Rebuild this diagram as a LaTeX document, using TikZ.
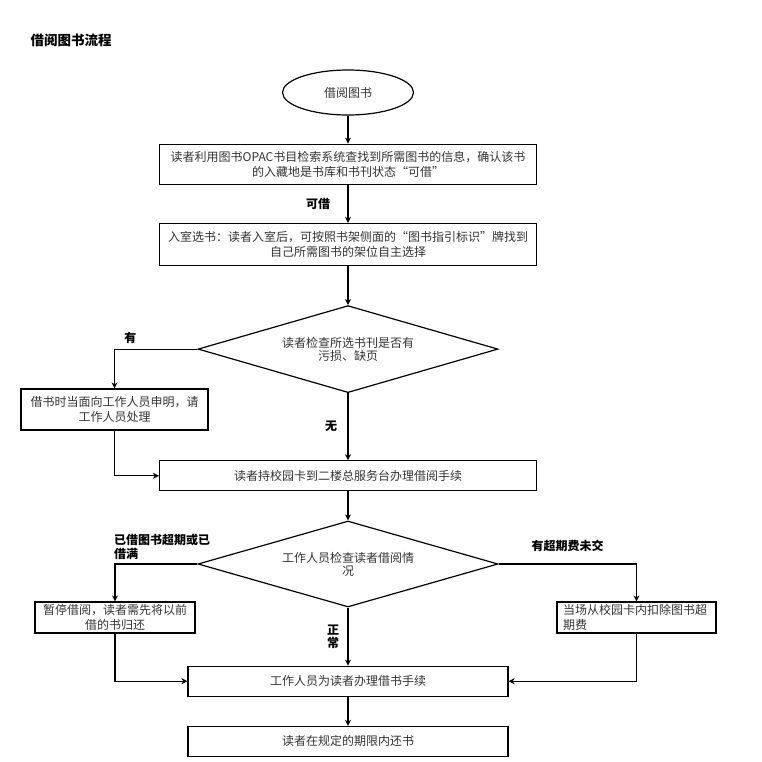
\documentclass[tikz,border=0pt]{standalone}
\usepackage{fontspec}
\setmainfont{Noto Sans CJK SC}
\usetikzlibrary{shapes.geometric,arrows.meta,positioning}

\begin{document}
\begin{tikzpicture}[
    x=1pt, y=-1pt,
    block/.style={rectangle, draw, line width=1.2pt, text=black!80, align=center, minimum width=377pt, minimum height=30pt, inner ysep=1pt, font=\fontsize{12}{15}\selectfont},
    startstop/.style={ellipse, draw, line width=1.2pt, text=black!80, minimum width=131pt, minimum height=45pt, font=\fontsize{12}{15}\selectfont},
    decision/.style={diamond, draw, line width=1.2pt, text=black!80, align=center, aspect=3.4, minimum width=300pt, minimum height=87pt, inner sep=1pt, font=\fontsize{12}{13}\selectfont},
    lbl/.style={font=\fontsize{12}{14}\selectfont\bfseries},
    conn/.style={draw, line width=1.2pt, -{Stealth[length=6pt,width=6pt]}}
]
    \useasboundingbox (0,0) rectangle (762,762);
    \node[lbl, anchor=west, font=\fontsize{13.5}{16}\selectfont\bfseries] (title) at (27,40) {借阅图书流程};

    \node[startstop] (start) at (348,92.5) {借阅图书};
    \node[block, minimum height=40pt, below=28pt of start] (search) {读者利用图书OPAC书目检索系统查找到所需图书的信息，确认该书\\的入藏地是书库和书刊状态“可借”};
    \node[block, minimum height=42pt, below=38pt of search] (enter) {入室选书：读者入室后，可按照书架侧面的“图书指引标识”牌找到\\自己所需图书的架位自主选择};
    \node[decision, below=39pt of enter] (check) {读者检查所选书刊是否有\\污损、缺页};
    \node[block, below=67pt of check] (desk) {读者持校园卡到二楼总服务台办理借阅手续};
    \node[decision, minimum height=86pt, below=29pt of desk] (status) {工作人员检查读者借阅情\\况};
    \node[block, minimum width=320pt, below=58pt of status] (lend) {工作人员为读者办理借书手续};
    \node[block, minimum width=320pt, below=29pt of lend] (return) {读者在规定的期限内还书};

    \node[block, minimum width=187pt, minimum height=41pt] (report) at (114.5,409.5) {借书时当面向工作人员申明，请\\工作人员处理};
    \node[block, minimum width=160pt, minimum height=31pt] (suspend) at (115,617.5) {暂停借阅，读者需先将以前\\借的书归还};
    \node[block, minimum width=159pt, minimum height=31pt, text width=147pt, align=left] (deduct) at (636.5,617.5) {当场从校园卡内扣除图书超\\期费};

    \draw[conn] (start) -- (search);
    \draw[conn] (search) -- node[lbl, left=14pt] (lkejie) {可借} (enter);
    \draw[conn] (enter) -- (check);
    \draw[conn] (check.west) -| node[lbl, above right, xshift=6pt, yshift=2pt] (lyou) {有} (report.north);
    \draw[conn] (check) -- node[lbl, left=7pt] (lwu) {无} (desk);
    \draw[conn] (report.south) |- (desk.west);
    \draw[conn] (desk) -- (status);
    \draw[conn] (status.west) -| node[lbl, above right, align=left, inner sep=0pt, xshift=-1.5pt, yshift=4pt] (lfull) {已借图书超期或已\\借满} (suspend.north);
    \draw[conn] (status.east) -| node[lbl, above, pos=0.25, yshift=8pt] (lfee) {有超期费未交} (deduct.north);
    \draw[conn] (status) -- node[lbl, left=5pt, align=center, font=\fontsize{12}{12.5}\selectfont\bfseries] (lnormal) {正\\常} (lend);
    \draw[conn] (suspend.south) |- (lend.west);
    \draw[conn] (deduct.south) |- (lend.east);
    \draw[conn] (lend) -- (return);
\end{tikzpicture}
\end{document}
